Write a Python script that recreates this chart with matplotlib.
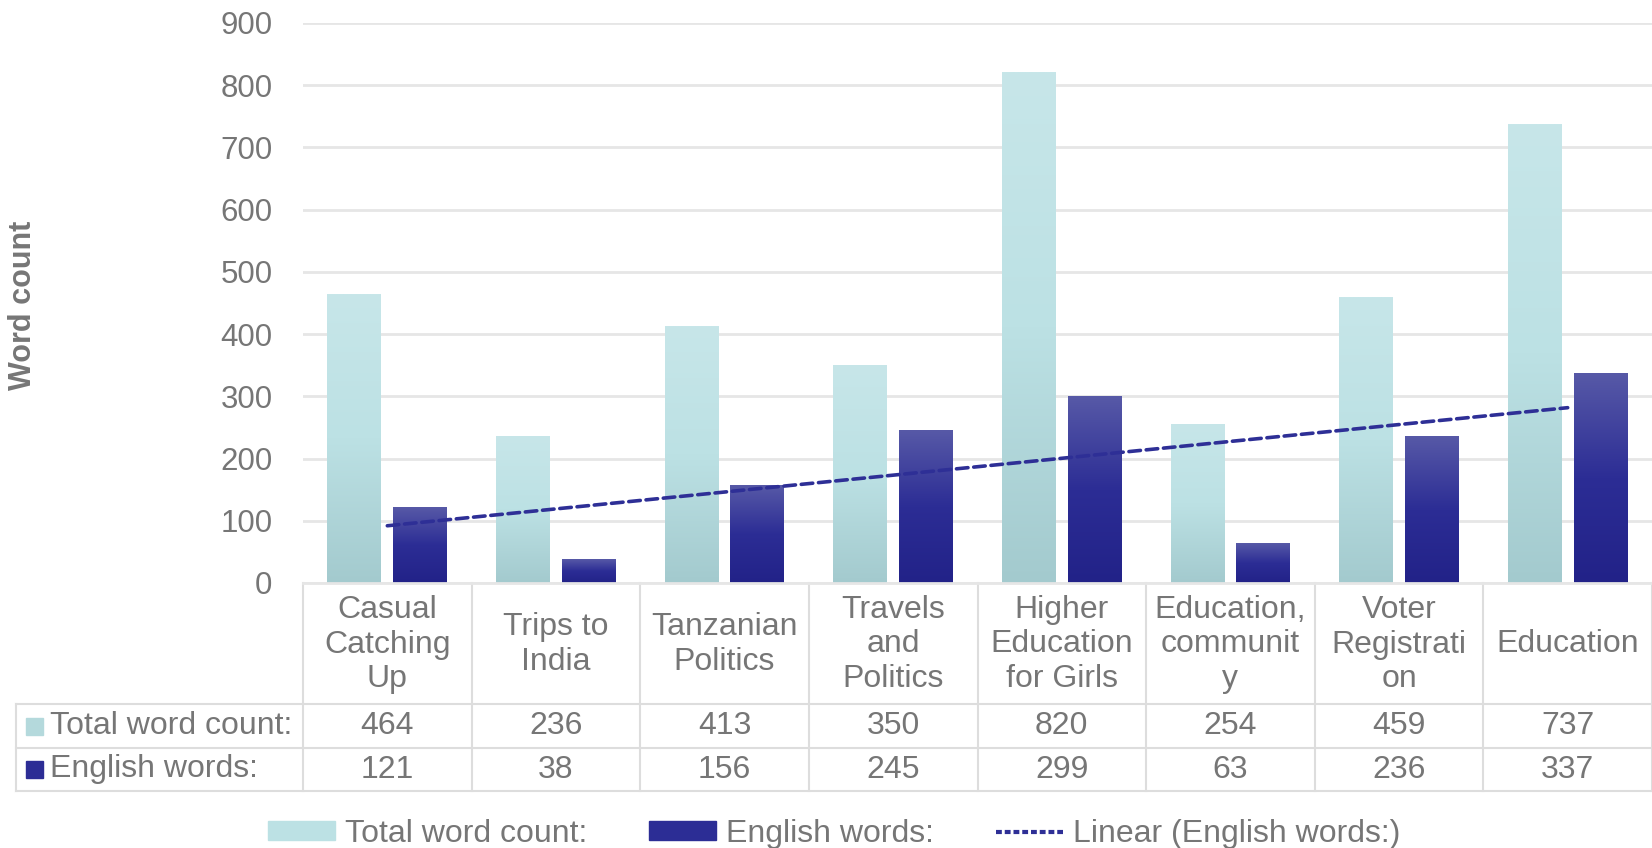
import numpy as np
import matplotlib
matplotlib.use("Agg")
import matplotlib.pyplot as plt
from matplotlib.colors import LinearSegmentedColormap
from matplotlib.patches import Rectangle
from matplotlib.lines import Line2D
from matplotlib.transforms import blended_transform_factory

plt.rcParams['font.family'] = ['Liberation Sans', 'DejaVu Sans']

categories = ["Casual\nCatching\nUp", "Trips to\nIndia", "Tanzanian\nPolitics",
              "Travels\nand\nPolitics", "Higher\nEducation\nfor Girls",
              "Education,\ncommunit\ny", "Voter\nRegistrati\non", "Education"]
total_words = [464, 236, 413, 350, 820, 254, 459, 737]
english_words = [121, 38, 156, 245, 299, 63, 236, 337]
series_names = ["Total word count:", "English words:"]
trend_name = "Linear (English words:)"
y_ticks = [0, 100, 200, 300, 400, 500, 600, 700, 800, 900]
y_label = "Word count"

FS = 23
W, H = 1652, 848
fig = plt.figure(figsize=(W / 100, H / 100), dpi=100)
ax_l, ax_r, ax_t, ax_b = 303, 1652, 23, 583
ax = fig.add_axes([ax_l / W, 1 - ax_b / H, (ax_r - ax_l) / W, (ax_b - ax_t) / H])

TXT = '#767676'
GRID = '#E6E6E6'
light_cmap = LinearSegmentedColormap.from_list('l', ['#A3CACE', '#BCE1E4', '#C7E6E9'])
dark_cmap = LinearSegmentedColormap.from_list('d', ['#222288', '#2C2D95', '#5759A7'])
grad = np.linspace(0, 1, 256).reshape(-1, 1)

x = np.arange(len(categories))
bw = 0.32
off = 0.195
for xi, v in zip(x, total_words):
    ax.imshow(grad, cmap=light_cmap, origin='lower', aspect='auto',
              extent=[xi - off - bw / 2, xi - off + bw / 2, 0, v], zorder=2)
for xi, v in zip(x, english_words):
    ax.imshow(grad, cmap=dark_cmap, origin='lower', aspect='auto',
              extent=[xi + off - bw / 2, xi + off + bw / 2, 0, v], zorder=2)

# linear trendline
xs = np.arange(1, len(english_words) + 1)
coef = np.polyfit(xs, english_words, 1)
trend_y = np.polyval(coef, xs)
ax.plot(x, trend_y, color='#2E2F96', lw=2.6, linestyle=(0, (3.2, 1.6)),
        dash_capstyle='round', zorder=3)

ax.set_xlim(-0.5, len(categories) - 0.5)
ax.set_ylim(0, 900)
ax.set_yticks(y_ticks)
ax.set_yticklabels([str(t) for t in y_ticks], fontsize=22.5, color=TXT)
ax.tick_params(axis='y', length=0, pad=22)
ax.set_xticks([])
ax.grid(axis='y', color=GRID, lw=2)
ax.set_axisbelow(True)
for s in ['left', 'right', 'top']:
    ax.spines[s].set_visible(False)
ax.spines['bottom'].set_color(GRID)
ax.spines['bottom'].set_linewidth(2)

fig.text(23 / W, 1 - 305 / H, y_label, rotation=90, fontsize=22, fontweight='bold',
         color=TXT, ha='center', va='center')

# data table
tr = blended_transform_factory(ax.transData, ax.transAxes)
def ya(ypx):
    return (ax_b - ypx) / (ax_b - ax_t)
rows_px = [583, 704, 748, 791]
TL = '#DDDDDD'
for b in np.arange(-0.5, len(categories), 1.0):
    ax.add_line(Line2D([b, b], [ya(583), ya(791)], transform=tr, color=TL, lw=1.5, clip_on=False))
for ypx in rows_px[1:]:
    fig.add_artist(Line2D([16 / W, 1], [1 - ypx / H, 1 - ypx / H], transform=fig.transFigure,
                          color=TL, lw=1.5))
fig.add_artist(Line2D([16 / W, 16 / W], [1 - 704 / H, 1 - 791 / H], transform=fig.transFigure,
                      color=TL, lw=1.5))
for xi, c in zip(x, categories):
    ax.text(xi, ya((583 + 704) / 2 + 1), c, transform=tr, ha='center', va='center',
            fontsize=FS, color=TXT, linespacing=1.2)
key_cols = ['#B4D9DC', '#2C2D95']
for r, (name, vals) in enumerate(zip(series_names, [total_words, english_words])):
    yc = (rows_px[r + 1] + rows_px[r + 2]) / 2
    for xi, v in zip(x, vals):
        ax.text(xi, ya(yc), str(v), transform=tr, ha='center', va='center',
                fontsize=FS, color=TXT)
    fig.add_artist(Rectangle((26 / W, 1 - (yc + 8.5) / H), 17 / W, 17 / H,
                             transform=fig.transFigure, color=key_cols[r]))
    fig.text(50 / W, 1 - yc / H, name, ha='left', va='center', fontsize=FS, color=TXT)

# legend
handles = [Rectangle((0, 0), 1, 1, color='#BCE1E4'),
           Rectangle((0, 0), 1, 1, color='#2C2D95'),
           Line2D([0], [0], color='#2E2F96', lw=3, linestyle=(0, (1.4, 0.7)))]
fig.legend(handles, series_names + [trend_name], loc='center', ncol=3,
           bbox_to_anchor=(834 / W, 1 - 834 / H),
           frameon=False, fontsize=FS, labelcolor=TXT, handlelength=2.1,
           handleheight=0.55, handletextpad=0.3, columnspacing=1.95)

fig.savefig('out.png', dpi=100)
